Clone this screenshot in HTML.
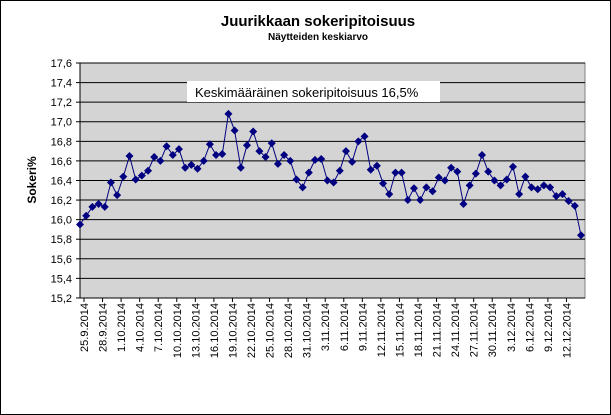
<!DOCTYPE html>
<html><head><meta charset="utf-8"><style>
body{margin:0;background:#fff;}
svg{display:block;font-family:"Liberation Sans",Arial,sans-serif;}
</style></head><body>
<svg id="s" width="611" height="415" xmlns="http://www.w3.org/2000/svg">
<rect x="0.5" y="0.5" width="610" height="414" fill="#fff" stroke="#000"/>
<text x="318" y="26" font-size="15" font-weight="bold" text-anchor="middle">Juurikkaan sokeripitoisuus</text>
<text x="318" y="40" font-size="10" font-weight="bold" text-anchor="middle">Näytteiden keskiarvo</text>
<rect x="80" y="63" width="505" height="235" fill="#d4d4d4" stroke="#808080"/>
<g id="g"></g>
<text transform="translate(36,180) rotate(-90)" font-size="12" font-weight="bold" text-anchor="middle">Sokeri%</text>
<rect x="187" y="81" width="253" height="21" fill="#fff"/>
<text x="195" y="97" font-size="13">Keskimääräinen sokeripitoisuus 16,5%</text>
</svg>
<script>
var g=document.getElementById('g'),h='';
function Y(v){return 63+(17.6-v)/0.2*19.58;}
for(var i=0;i<=12;i++){var v=17.6-i*0.2,y=Y(v);
h+='<line x1="80" x2="585" y1="'+y+'" y2="'+y+'" stroke="#000" stroke-width="1"/>';
h+='<line x1="76" x2="80" y1="'+y+'" y2="'+y+'" stroke="#000"/>';
h+='<text x="72" y="'+(y+4)+'" font-size="11" text-anchor="end">'+v.toFixed(1).replace('.',',')+'</text>';}
h+='<line x1="80" x2="80" y1="63" y2="298" stroke="#000"/>';
var d=[15.95,16.04,16.13,16.16,16.13,16.38,16.25,16.44,16.65,16.41,16.45,16.50,16.64,16.60,16.75,16.66,16.72,16.53,16.56,16.52,16.60,16.77,16.66,16.67,17.08,16.91,16.53,16.76,16.90,16.70,16.64,16.78,16.57,16.66,16.60,16.41,16.33,16.48,16.61,16.62,16.40,16.38,16.50,16.70,16.59,16.80,16.85,16.51,16.55,16.37,16.26,16.48,16.48,16.20,16.32,16.20,16.33,16.29,16.43,16.40,16.53,16.49,16.16,16.35,16.47,16.66,16.49,16.40,16.35,16.41,16.54,16.26,16.44,16.33,16.31,16.35,16.33,16.24,16.26,16.19,16.14,15.84];
var n=d.length,dx=(581-80)/(n-1),pts=[];
for(var i=0;i<n;i++){var x=80+i*dx,y=Y(d[i]);pts.push(x.toFixed(1)+','+y.toFixed(1));}
h+='<polyline points="'+pts.join(' ')+'" fill="none" stroke="#000080" stroke-width="1"/>';
for(var i=0;i<n;i++){var x=80+i*dx,y=Y(d[i]);
h+='<polygon points="'+x+','+(y-4)+' '+(x+4)+','+y+' '+x+','+(y+4)+' '+(x-4)+','+y+'" fill="#000080"/>';}
var labs=['25.9.2014','28.9.2014','1.10.2014','4.10.2014','7.10.2014','10.10.2014','13.10.2014','16.10.2014','19.10.2014','22.10.2014','25.10.2014','28.10.2014','31.10.2014','3.11.2014','6.11.2014','9.11.2014','12.11.2014','15.11.2014','18.11.2014','21.11.2014','24.11.2014','27.11.2014','30.11.2014','3.12.2014','6.12.2014','9.12.2014','12.12.2014'];
for(var k=0;k<labs.length;k++){var x=84+k*3*dx;
h+='<line x1="'+x+'" x2="'+x+'" y1="298" y2="302" stroke="#000"/>';
h+='<text transform="translate('+(x+4)+',303) rotate(-90)" font-size="11" text-anchor="end">'+labs[k]+'</text>';}
g.innerHTML=h;
</script>
</body></html>
